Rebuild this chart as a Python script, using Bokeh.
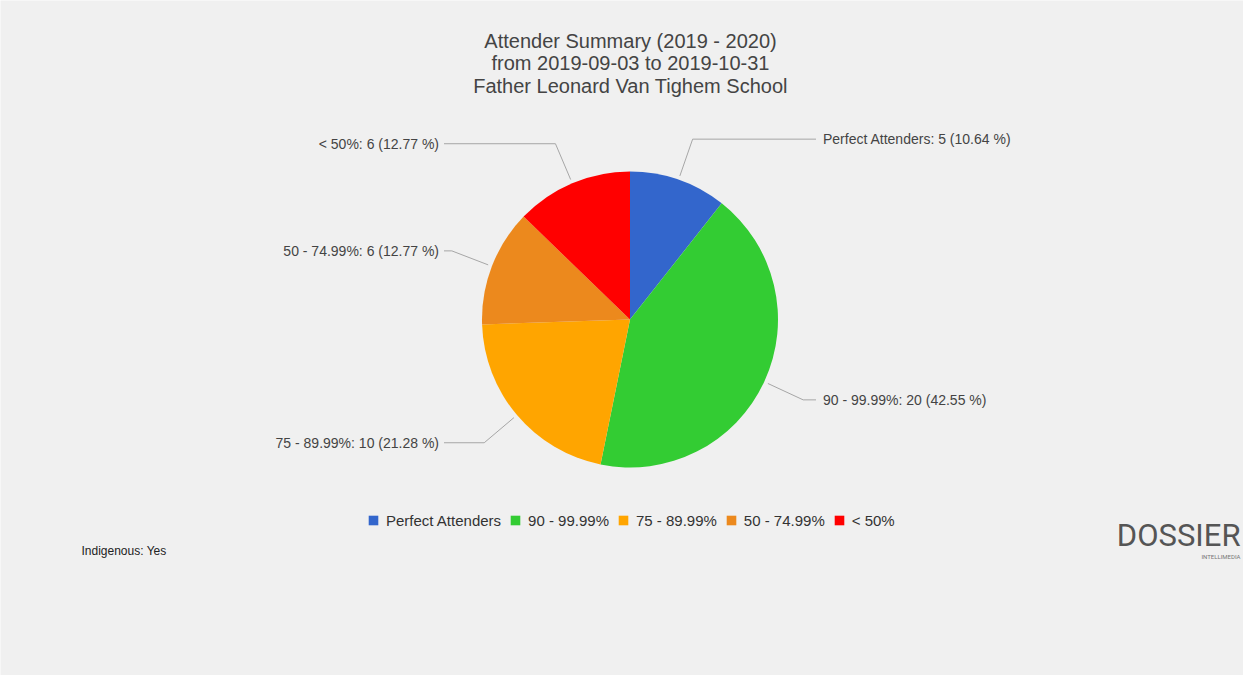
import math
from bokeh.plotting import figure
from bokeh.models import Range1d, Legend, LegendItem, ColumnDataSource, Label
from bokeh.embed import file_html
from bokeh.resources import INLINE
from bokeh.core.properties import value

# ---- data ----
categories = ["Perfect Attenders", "90 - 99.99%", "75 - 89.99%", "50 - 74.99%", "< 50%"]
counts = [5, 20, 10, 6, 6]
colors = ["#3366cc", "#33cc33", "#ffa500", "#ec891d", "#ff0000"]
title_lines = ["Attender Summary (2019 - 2020)", "from 2019-09-03 to 2019-10-31",
               "Father Leonard Van Tighem School"]
footnote = "Indigenous: Yes"

# ---- layout constants ----
W, H = 1243, 675
CX, CY = 629.5, 356.0   # pie centre (px, from bottom-left)
R = 148.0
FONT = "Liberation Sans"

p = figure(width=W, height=H, x_range=Range1d(0, W), y_range=Range1d(0, H),
           output_backend="svg", toolbar_location=None, min_border=0)
p.axis.visible = False
p.grid.visible = False
p.outline_line_color = None
p.background_fill_color = "#f0f0f0"
p.border_fill_color = "#f0f0f0"

total = sum(counts)
fracs = [c / total for c in counts]
starts, ends, mids = [], [], []
acc = 0.0
for f in fracs:
    a0 = math.pi / 2 - acc * 2 * math.pi
    a1 = math.pi / 2 - (acc + f) * 2 * math.pi
    starts.append(a0)
    ends.append(a1)
    mids.append((a0 + a1) / 2)
    acc += f

src = ColumnDataSource(dict(start=starts, end=ends, color=colors, cat=categories,
                            x=[CX] * len(counts), y=[CY] * len(counts)))
wr = p.wedge(x="x", y="y", radius=R, start_angle="start", end_angle="end",
             direction="clock", fill_color="color", line_color=None, source=src)

# ---- leader lines and slice labels ----
lx, ly, tx, ty, tl, ta = [], [], [], [], [], []
for cat, c, f, m in zip(categories, counts, fracs, mids):
    sx, sy = CX + (R + 4) * math.cos(m), CY + (R + 4) * math.sin(m)
    ex, ey = CX + (R * 1.29) * math.cos(m), CY + (R * 1.29) * math.sin(m)
    right = math.cos(m) >= 0
    hx = CX + 186 if right else CX - 186
    lx.append([sx, ex, hx])
    ly.append([sy, ey, ey])
    tx.append(hx + 7 if right else hx - 5)
    ty.append(ey)
    tl.append(f"{cat}: {c} ({f * 100:.2f} %)")
    ta.append("left" if right else "right")

p.multi_line(xs=lx, ys=ly, line_color="#a6a6a6", line_width=1)
p.text(x=tx, y=ty, text=tl, text_align=ta, text_baseline="middle",
       text_font=value(FONT), text_font_size="14px", text_color="#444444")

# ---- title ----
for i, line in enumerate(title_lines):
    p.add_layout(Label(x=630, y=635 - i * 22.5, text=line, text_align="center",
                       text_baseline="middle", text_font=FONT,
                       text_font_size="20px", text_color="#444444"))

# ---- legend ----
items = [LegendItem(label=cat, renderers=[wr], index=i) for i, cat in enumerate(categories)]
legend = Legend(items=items, orientation="horizontal", location=(367, 145),
                glyph_width=12, glyph_height=12, label_standoff=7, spacing=8,
                padding=0, margin=0, border_line_color=None, background_fill_alpha=0,
                label_text_font=FONT, label_text_font_size="15px",
                label_text_color="#333333", label_height=20)
p.add_layout(legend, "center")

# ---- footnote and logo ----
p.add_layout(Label(x=81, y=125, text=footnote, text_baseline="middle", text_font=FONT,
                   text_font_size="12px", text_color="#222222"))
p.add_layout(Label(x=1240, y=140, text="DOSSIER", text_align="right",
                   text_baseline="middle", text_font="Roboto", text_font_style="normal",
                   text_font_size="31px", text_color="#555555"))
p.add_layout(Label(x=1240, y=119, text="INTELLIMEDIA", text_align="right",
                   text_baseline="middle", text_font="Roboto",
                   text_font_size="6px", text_color="#777777"))

open("out.html", "w").write(file_html(p, INLINE))
